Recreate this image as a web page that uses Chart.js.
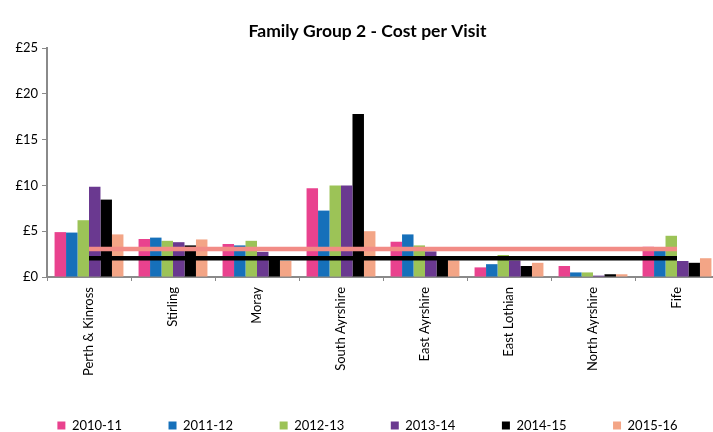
<!DOCTYPE html>
<html>
<head>
<meta charset="utf-8">
<title>Family Group 2 - Cost per Visit</title>
<script src="https://cdn.jsdelivr.net/npm/chart.js@4/dist/chart.umd.min.js"></script>
<style>
  html, body { margin: 0; padding: 0; background: #fff; overflow: hidden; }
  #wrap { width: 713px; height: 432px; overflow: hidden; }
  canvas { display: block; }
</style>
</head>
<body>
<div id="wrap">
  <canvas id="costChart" width="735" height="432"></canvas>
</div>
<script>
// Councils along the x axis
const categories = ['Perth & Kinross', 'Stirling', 'Moray', 'South Ayrshire', 'East Ayrshire', 'East Lothian', 'North Ayrshire', 'Fife'];

// Cost per visit (£) by year
const cost2010_11 = [4.9, 4.15, 3.6, 9.7, 3.85, 1.05, 1.2, 3.3];
const cost2011_12 = [4.85, 4.3, 3.45, 7.25, 4.65, 1.4, 0.5, 3.0];
const cost2012_13 = [6.2, 3.95, 3.95, 10.0, 3.45, 2.4, 0.5, 4.5];
const cost2013_14 = [9.85, 3.8, 2.75, 10.0, 2.8, 1.8, 0.15, 1.75];
const cost2014_15 = [8.45, 3.45, 2.0, 17.8, 2.0, 1.2, 0.3, 1.55];
const cost2015_16 = [4.65, 4.1, 1.75, 5.0, 1.8, 1.55, 0.3, 2.05];

// Reference lines drawn across the groups
const pinkLine = [3.05, 3.05, 3.05, 3.05, 3.05, 3.05, 3.05, 3.05];
const blackLine = [2.05, 2.05, 2.05, 2.05, 2.05, 2.05, 2.05, 2.05];

const yTicks = [0, 5, 10, 15, 20, 25];

const FONT = 'Lato, "Open Sans", sans-serif';
const AXIS_GREY = '#8a8a8a';
const LEGEND_FONT_SIZE = 13;

function bar(label, data, color) {
    return { type: 'bar', label, data, backgroundColor: color, borderWidth: 0, order: 2 };
}

function refLine(label, data, color, order) {
    return {
        type: 'line', label, data,
        borderColor: color, borderWidth: 4.5,
        pointRadius: 0, fill: false, tension: 0, order
    };
}

// Excel spreads the legend entries out evenly; pad the text so Chart.js does too
function spacedLegendLabels(chart) {
    const items = Chart.defaults.plugins.legend.labels.generateLabels(chart)
        .filter(item => !item.text.startsWith('line-'));
    const c = chart.ctx;
    c.save();
    c.font = LEGEND_FONT_SIZE + 'px ' + FONT;
    items.forEach((item, i) => {
        if (i < items.length - 1) {
            while (c.measureText(item.text).width < 86.5) item.text += '\u200A';
        }
    });
    c.restore();
    return items;
}

const ctx = document.getElementById('costChart').getContext('2d');

new Chart(ctx, {
    data: {
        labels: categories,
        datasets: [
            refLine('line-black', blackLine, '#000000', 0),
            refLine('line-pink', pinkLine, '#F28C86', 1),
            bar('2010-11', cost2010_11, '#E9428E'),
            bar('2011-12', cost2011_12, '#1670BA'),
            bar('2012-13', cost2012_13, '#9CC357'),
            bar('2013-14', cost2013_14, '#6A3990'),
            bar('2014-15', cost2014_15, '#000000'),
            bar('2015-16', cost2015_16, '#F3A586')
        ]
    },
    options: {
        responsive: false,
        animation: false,
        devicePixelRatio: 1,
        layout: { padding: 0 },
        datasets: {
            bar: { categoryPercentage: 0.82, barPercentage: 1 }
        },
        plugins: {
            title: {
                display: true,
                text: 'Family Group 2 - Cost per Visit',
                color: '#000',
                font: { family: FONT, size: 17.5, weight: 'bold' },
                padding: { top: 20.5, bottom: 6.5 }
            },
            legend: {
                position: 'bottom',
                maxHeight: 23,
                labels: {
                    color: '#000',
                    font: { family: FONT, size: LEGEND_FONT_SIZE },
                    boxWidth: 8,
                    boxHeight: 8,
                    padding: 10,
                    generateLabels: spacedLegendLabels
                }
            },
            tooltip: { enabled: false }
        },
        scales: {
            x: {
                offset: true,
                grid: {
                    display: true,
                    offset: true,
                    drawOnChartArea: false,
                    drawTicks: true,
                    tickLength: 4,
                    color: AXIS_GREY
                },
                border: { display: true, color: AXIS_GREY, width: 2 },
                ticks: {
                    color: '#000',
                    font: { family: FONT, size: 13 },
                    minRotation: 90,
                    maxRotation: 90,
                    autoSkip: false,
                    padding: 6
                },
                afterFit: (scale) => {
                    scale.height = 132;
                    scale.paddingRight = 16; // plot runs on past the cropped right edge
                }
            },
            y: {
                min: 0,
                max: 25,
                afterBuildTicks: (scale) => { scale.ticks = yTicks.map(v => ({ value: v })); },
                grid: {
                    display: true,
                    drawOnChartArea: false,
                    drawTicks: true,
                    tickLength: 5,
                    color: AXIS_GREY
                },
                border: { display: true, color: AXIS_GREY, width: 2 },
                ticks: {
                    color: '#000',
                    font: { family: FONT, size: 13 },
                    padding: 4,
                    callback: (v) => '£' + v
                },
                afterFit: (scale) => { scale.width = 47; }
            }
        }
    }
});
</script>
</body>
</html>
